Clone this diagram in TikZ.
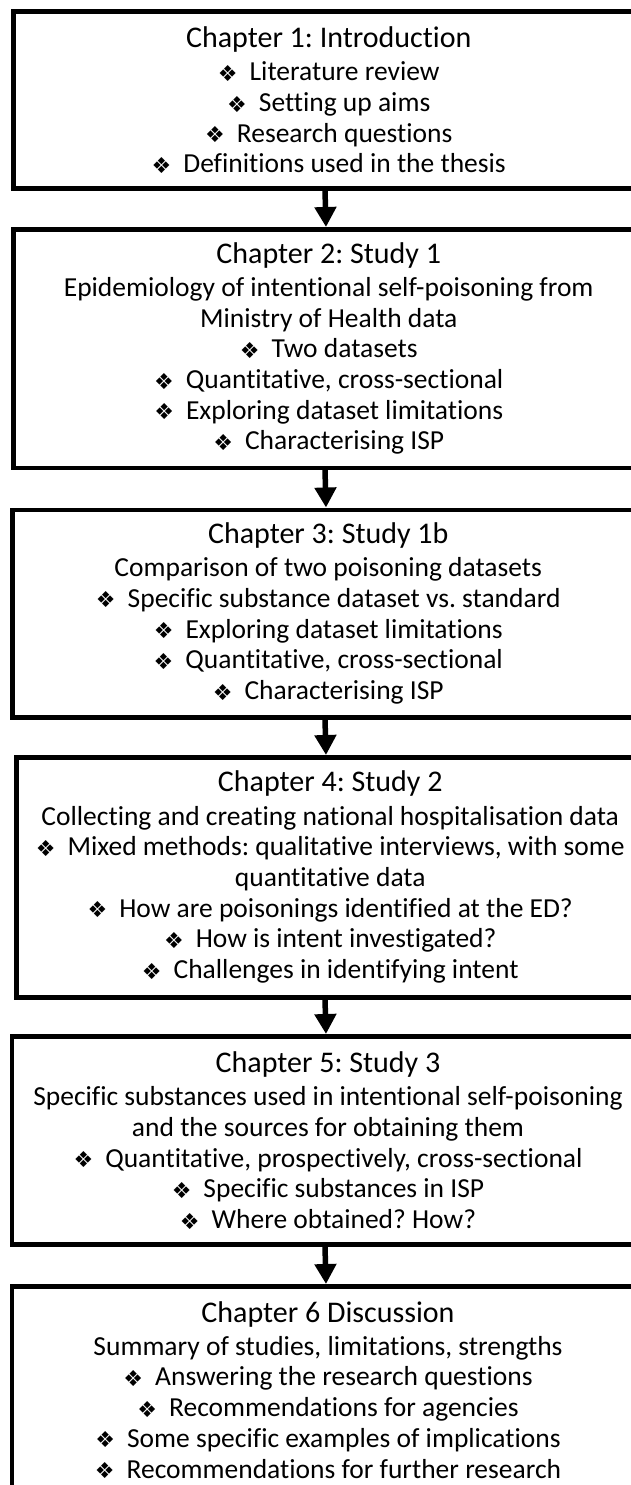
\documentclass[tikz,border=0pt]{standalone}
\usepackage{fontspec}
\setmainfont{Carlito}[Ligatures=NoCommon]
\newfontfamily\dvfont{DejaVu Sans}
\usetikzlibrary{arrows.meta}

% diamond bullet used in the chapter boxes
\newcommand\bul{\smash{\dvfont\fontsize{22}{22}\selectfont\raisebox{-0.5pt}{\symbol{"2756}}}\hspace{12pt}}
\newcommand\ttl[1]{{\fontsize{30}{30}\selectfont #1}\\[2.5pt]}

\tikzset{
  chap/.style={draw, line width=4.5pt, rectangle, anchor=north west,
    align=center, inner sep=0pt,
    font=\fontsize{27.5}{30.7}\selectfont\frenchspacing},
  flow/.style={line width=5.5pt, -{Triangle[width=21pt,length=20pt]}}
}

\begin{document}
\begin{tikzpicture}[x=1pt,y=1pt]
\useasboundingbox (0,0) rectangle (631,-1485);
\clip (0,0) rectangle (631,-1485);

\node[chap, minimum width=631pt, minimum height=176.5pt] (c1) at (11,-9.5) {%
  \ttl{Chapter 1: Introduction}
  \bul Literature review\\
  \bul Setting up aims\\
  \bul Research questions\\
  \bul Definitions used in the thesis};

\node[chap, minimum width=631pt, minimum height=238.5pt] (c2) at (11,-227) {%
  \ttl{Chapter 2: Study 1}
  Epidemiology of intentional self-poisoning from\\
  Ministry of Health data\\
  \bul Two datasets\\
  \bul Quantitative, cross-sectional\\
  \bul Exploring dataset limitations\\
  \bul Characterising ISP};

\node[chap, minimum width=632pt, minimum height=207.5pt] (c3) at (10,-507.5) {%
  \ttl{Chapter 3: Study 1b}
  Comparison of two poisoning datasets\\
  \bul Specific substance dataset vs. standard\\
  \bul Exploring dataset limitations\\
  \bul Quantitative, cross-sectional\\
  \bul Characterising ISP};

\node[chap, minimum width=628pt, minimum height=240pt] (c4) at (14,-755) {%
  \ttl{Chapter 4: Study 2}
  Collecting and creating national hospitalisation data\\
  \bul Mixed methods: qualitative interviews, with some\\
  quantitative data\\
  \bul How are poisonings identified at the ED?\\
  \bul How is intent investigated?\\
  \bul Challenges in identifying intent};

\node[chap, minimum width=632.5pt, minimum height=208pt] (c5) at (9.5,-1034) {%
  \ttl{Chapter 5: Study 3}
  Specific substances used in intentional self-poisoning\\
  and the sources for obtaining them\\
  \bul Quantitative, prospectively, cross-sectional\\
  \bul Specific substances in ISP\\
  \bul Where obtained? How?};

\node[chap, minimum width=632.5pt, minimum height=207pt] (c6) at (9.5,-1284) {%
  \ttl{Chapter 6 Discussion}
  Summary of studies, limitations, strengths\\
  \bul Answering the research questions\\
  \bul Recommendations\ for agencies\\
  \bul Some specific examples of implications\\
  \bul Recommendations\ for further research};

% connectors between consecutive chapters
\foreach \a/\b in {c1/c2, c2/c3, c3/c4, c4/c5, c5/c6}
  \draw[flow] ([xshift=-1pt]\a.south -| 326,0) -- (\b.north -| 326,0);

\end{tikzpicture}
\end{document}
